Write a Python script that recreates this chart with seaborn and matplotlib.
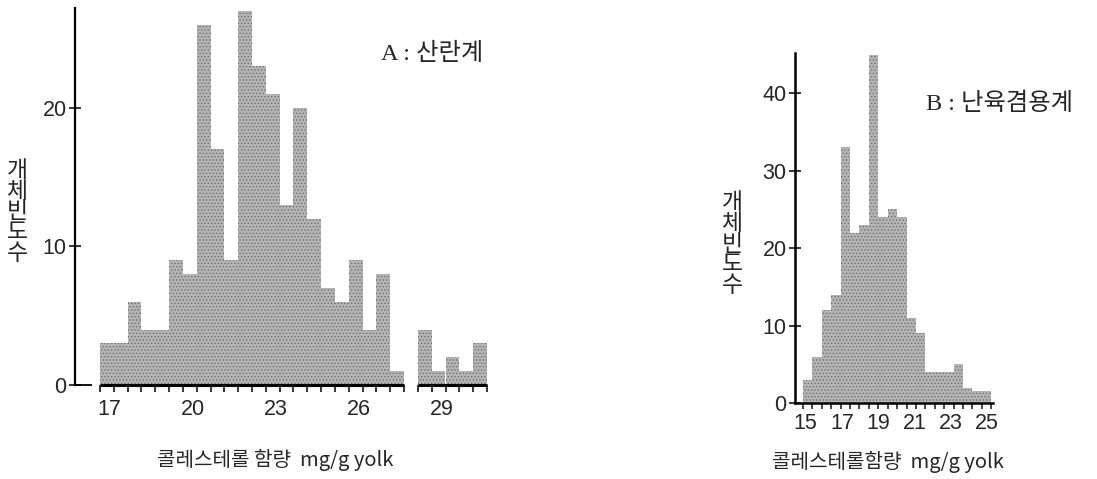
import matplotlib
matplotlib.use("Agg")
import matplotlib.pyplot as plt
import seaborn as sns
import numpy as np
import pandas as pd

# panel A: 산란계, bins of 0.5 mg/g starting at 16.65 (one empty bin at the axis break)
a_start, a_width = 16.65, 0.5
a_counts = [3, 3, 6, 4, 4, 9, 8, 26, 17, 9, 27, 23, 21, 13, 20, 12, 7, 6, 9, 4, 8, 1,
            0,
            4, 1, 2, 1, 3]
a_ticks = [17, 20, 23, 26, 29]
a_yticks = [0, 10, 20]

# panel B: 난육겸용계
b_start, b_width = 14.85, 0.52
b_counts = [3, 6, 12, 14, 33, 22, 23, 45, 24, 25, 24, 11, 9, 4, 4, 4, 5, 2, 1.5, 1.5]
b_ticks = [15, 17, 19, 21, 23, 25]
b_yticks = [0, 10, 20, 30, 40]

ylabel = "개체빈도수"
a_xlabel = "콜레스테롤 함량  mg/g yolk"
b_xlabel = "콜레스테롤함량  mg/g yolk"
a_title = "A : 산란계"
b_title = "B : 난육겸용계"

sns.set_style("white")
plt.rcParams['font.family'] = ['Noto Sans CJK KR', 'DejaVu Sans']
plt.rcParams['hatch.linewidth'] = 0.6

W, H = 1097, 479
fig = plt.figure(figsize=(W / 100, H / 100), dpi=100)


def px_axes(l, t, r, b):
    return fig.add_axes([l / W, 1 - b / H, (r - l) / W, (b - t) / H])


num_font = ['Liberation Sans Narrow', 'Liberation Sans']
bar_kw = dict(color='#b4b4b4', edgecolor='#707070', linewidth=0, hatch='.....', alpha=1)


def draw_hist(ax, start, width, counts):
    edges = start + width * np.arange(len(counts) + 1)
    df = pd.DataFrame({"value": (edges[:-1] + edges[1:]) / 2, "count": counts})
    sns.histplot(data=df, x="value", weights="count", bins=edges.tolist(), ax=ax,
                 element='bars', fill=True, **bar_kw)
    return edges


# ---- panel A ----
axA = px_axes(75, 8, 490, 385)
a_edges = draw_hist(axA, a_start, a_width, a_counts)
axA.set_xlim(a_start - 25 / 27.64, a_start + 390 / 27.64)
axA.set_ylim(0, 27.2)
for s in ['top', 'right', 'bottom']:
    axA.spines[s].set_visible(False)
axA.spines['left'].set_linewidth(1.6)
axA.spines['left'].set_color('black')

gap = a_counts.index(0)
seg1 = a_edges[:gap + 1]
seg2 = a_edges[gap + 1:]
for seg in (seg1, seg2):
    axA.hlines(0, seg[0], seg[-1], color='black', lw=2.2, clip_on=False, zorder=5)
axA.hlines(0, axA.get_xlim()[0], a_edges[0] - 0.3, color='black', lw=1.3, clip_on=False)

axA.set_xticks(a_ticks)
axA.set_xticklabels([str(t) for t in a_ticks], family=num_font, fontsize=15.5)
axA.set_xticks(np.concatenate([seg1, seg2]), minor=True)
axA.tick_params(axis='x', which='major', length=0, pad=10, bottom=True)
axA.tick_params(axis='x', which='minor', length=5, width=1.3, direction='out', bottom=True)
axA.set_yticks(a_yticks)
axA.set_yticklabels([str(t) for t in a_yticks], family=num_font, fontsize=15.5)
axA.tick_params(axis='y', length=8, width=1.3, direction='inout', left=True, pad=2)
axA.set_xlabel("")
axA.set_ylabel("")

# ---- panel B ----
axB = px_axes(795, 53, 993, 403)
b_edges = draw_hist(axB, b_start, b_width, b_counts)
axB.set_xlim(b_start - 8 / 18.1, b_start + 190 / 18.1)
axB.set_ylim(0, 45.2)
for s in ['top', 'right']:
    axB.spines[s].set_visible(False)
for s in ['left', 'bottom']:
    axB.spines[s].set_linewidth(1.8)
    axB.spines[s].set_color('black')
axB.set_xticks(b_ticks)
axB.set_xticklabels([str(t) for t in b_ticks], family=num_font, fontsize=15.5)
axB.set_xticks(b_edges, minor=True)
axB.tick_params(axis='x', which='major', length=0, pad=7, bottom=True)
axB.tick_params(axis='x', which='minor', length=4, width=1.2, direction='out', bottom=True)
axB.set_yticks(b_yticks)
axB.set_yticklabels([str(t) for t in b_yticks], family=num_font, fontsize=15.5)
axB.tick_params(axis='y', length=8, width=1.3, direction='inout', left=True, pad=2)
axB.set_xlabel("")
axB.set_ylabel("")


def fig_text(x, y, s, **kw):
    fig.text(x / W, 1 - y / H, s, **kw)


stack = "\n".join(ylabel)
fig_text(17, 212, stack, fontsize=16.5, ha='center', va='center', linespacing=0.87)
fig_text(732, 244, stack, fontsize=16.5, ha='center', va='center', linespacing=0.87)

fig_text(275, 460, a_xlabel, fontsize=14.5, ha='center', va='center')
fig_text(888, 462, b_xlabel, fontsize=14.5, ha='center', va='center')

serif = ['Liberation Serif', 'Noto Sans CJK KR']
fig_text(432, 54, a_title, fontsize=17.5, ha='center', va='center', family=serif)
fig_text(1000, 104, b_title, fontsize=17.5, ha='center', va='center', family=serif)

fig.savefig("out.png", dpi=100, facecolor='white')
